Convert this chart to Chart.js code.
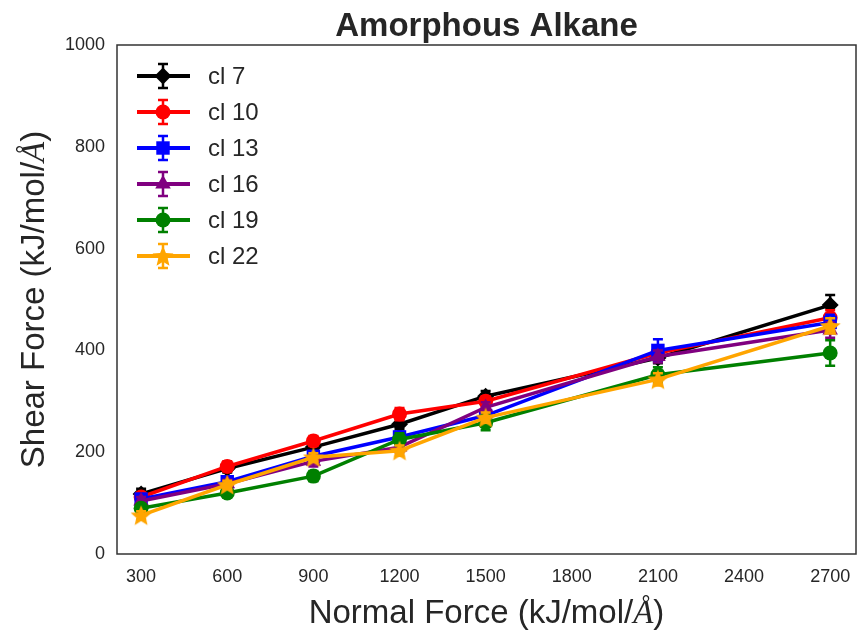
<!DOCTYPE html>
<html><head><meta charset="utf-8">
<script src="https://cdn.jsdelivr.net/npm/chart.js@4.4.0/dist/chart.umd.min.js"></script>
<style>html,body{margin:0;padding:0;background:#fff}#wrap{width:857px;height:635px}</style>
</head><body><div id="wrap"><canvas id="c" width="857" height="635"></canvas></div>
<script>
// ---- data ----
const normalForce = [300, 600, 900, 1200, 1500, 2100, 2700];
const seriesNames = ['cl 7', 'cl 10', 'cl 13', 'cl 16', 'cl 19', 'cl 22'];
const cl7  = [118, 168, 210, 255, 310, 385, 489];
const cl10 = [112, 172, 222, 275, 300, 395, 464];
const cl13 = [108, 142, 192, 230, 272, 400, 455];
const cl16 = [104, 138, 182, 210, 288, 388, 440];
const cl19 = [90, 120, 153, 225, 258, 352, 395];
const cl22 = [76, 136, 190, 203, 268, 343, 448];
const err7  = [10, 8, 10, 10, 10, 10, 20];
const err10 = [8, 10, 10, 12, 10, 10, 15];
const err13 = [10, 8, 10, 10, 10, 22, 15];
const err16 = [8, 8, 10, 10, 10, 12, 15];
const err19 = [8, 8, 10, 12, 15, 15, 25];
const err22 = [8, 8, 8, 10, 10, 12, 15];
const xTicks = [300, 600, 900, 1200, 1500, 1800, 2100, 2400, 2700];
const yTicks = [0, 200, 400, 600, 800, 1000];

const colors = ['#000000', '#ff0000', '#0000ff', '#800080', '#008000', '#ffa500'];
const values = [cl7, cl10, cl13, cl16, cl19, cl22];
const errors = [err7, err10, err13, err16, err19, err22];

const FONT = '"Liberation Sans", Arial, sans-serif';
const TXT = '#262626';

function starCanvas(color, R) {
  const s = Math.ceil(R * 2 + 2);
  const c = document.createElement('canvas');
  c.width = s; c.height = s;
  const g = c.getContext('2d');
  g.fillStyle = color;
  g.beginPath();
  const r = R * 0.45;
  for (let i = 0; i < 10; i++) {
    const a = -Math.PI / 2 + i * Math.PI / 5;
    const rr = i % 2 === 0 ? R : r;
    const px = s / 2 + rr * Math.cos(a), py = s / 2 + rr * Math.sin(a) + R * 0.08;
    if (i === 0) g.moveTo(px, py); else g.lineTo(px, py);
  }
  g.closePath(); g.fill();
  return c;
}
const star = starCanvas(colors[5], 11);
const styles = ['rectRot', 'circle', 'rect', 'triangle', 'circle', star];
const radii = [8.5, 7.5, 9.5, 9, 7.5, 8];

const datasets = values.map((vals, k) => ({
  label: seriesNames[k],
  data: normalForce.map((x, i) => ({ x: x, y: vals[i] })),
  borderColor: colors[k],
  backgroundColor: colors[k],
  borderWidth: 3.5,
  pointStyle: styles[k],
  pointRadius: radii[k],
  pointBorderWidth: 0,
  pointBackgroundColor: colors[k],
  pointBorderColor: colors[k],
  tension: 0,
  clip: 12,
  order: 5 - k,
  errs: errors[k]
}));

const errorBars = {
  id: 'errorBars',
  beforeDatasetDraw(chart, args) {
    const ds = chart.data.datasets[args.index];
    const ys = chart.scales.y;
    const ctx = chart.ctx;
    ctx.save();
    ctx.strokeStyle = ds.borderColor;
    ctx.lineWidth = 2.5;
    args.meta.data.forEach((pt, i) => {
      const v = ds.data[i].y, e = ds.errs[i];
      const y1 = ys.getPixelForValue(v + e), y2 = ys.getPixelForValue(v - e);
      ctx.beginPath();
      ctx.moveTo(pt.x, y1); ctx.lineTo(pt.x, y2);
      ctx.moveTo(pt.x - 5, y1); ctx.lineTo(pt.x + 5, y1);
      ctx.moveTo(pt.x - 5, y2); ctx.lineTo(pt.x + 5, y2);
      ctx.stroke();
    });
    ctx.restore();
  }
};

function drawMarker(ctx, k, x, y) {
  const c = colors[k], r = radii[k];
  ctx.fillStyle = c;
  ctx.beginPath();
  if (k === 0) { ctx.moveTo(x, y - r); ctx.lineTo(x + r, y); ctx.lineTo(x, y + r); ctx.lineTo(x - r, y); ctx.closePath(); ctx.fill(); }
  else if (k === 1 || k === 4) { ctx.arc(x, y, r, 0, Math.PI * 2); ctx.fill(); }
  else if (k === 2) { const s = r * Math.SQRT1_2; ctx.rect(x - s, y - s, 2 * s, 2 * s); ctx.fill(); }
  else if (k === 3) {
    for (let i = 0; i < 3; i++) { const a = -Math.PI / 2 + i * 2 * Math.PI / 3; const px = x + r * Math.cos(a), py = y + r * Math.sin(a); if (i === 0) ctx.moveTo(px, py); else ctx.lineTo(px, py); }
    ctx.closePath(); ctx.fill();
  } else { ctx.drawImage(star, x - star.width / 2, y - star.height / 2); }
}

function drawMixed(ctx, parts, x, y) {
  let w = 0;
  parts.forEach(p => { ctx.font = p.f; w += ctx.measureText(p.t).width; });
  let cx = x - w / 2;
  parts.forEach(p => { ctx.font = p.f; ctx.fillText(p.t, cx, y); cx += ctx.measureText(p.t).width; });
}

const decor = {
  id: 'decor',
  afterDraw(chart) {
    const ctx = chart.ctx, a = chart.chartArea;
    ctx.save();
    ctx.strokeStyle = '#333333';
    ctx.lineWidth = 1.5;
    ctx.strokeRect(a.left, a.top, a.right - a.left, a.bottom - a.top);
    ctx.fillStyle = TXT;
    ctx.textAlign = 'center';
    ctx.textBaseline = 'alphabetic';
    ctx.font = 'bold 33px ' + FONT;
    ctx.fillText('Amorphous Alkane', (a.left + a.right) / 2, 36);
    ctx.textAlign = 'left';
    const mx = (a.left + a.right) / 2;
    drawMixed(ctx, [
      { t: 'Normal Force (kJ/mol/', f: '33px ' + FONT },
      { t: 'Å', f: 'italic 33px "Liberation Serif", serif' },
      { t: ')', f: '33px ' + FONT }
    ], mx, 623);
    ctx.save();
    ctx.translate(44, (a.top + a.bottom) / 2);
    ctx.rotate(-Math.PI / 2);
    drawMixed(ctx, [
      { t: 'Shear Force (kJ/mol/', f: '33px ' + FONT },
      { t: 'Å', f: 'italic 33px "Liberation Serif", serif' },
      { t: ')', f: '33px ' + FONT }
    ], 0, 0);
    ctx.restore();
    seriesNames.forEach((name, k) => {
      const ly = 76 + k * 36;
      ctx.strokeStyle = colors[k];
      ctx.lineWidth = 4;
      ctx.beginPath(); ctx.moveTo(137, ly); ctx.lineTo(190, ly); ctx.stroke();
      ctx.lineWidth = 2.5;
      ctx.beginPath();
      ctx.moveTo(163, ly - 12); ctx.lineTo(163, ly + 12);
      ctx.moveTo(158, ly - 12); ctx.lineTo(168, ly - 12);
      ctx.moveTo(158, ly + 12); ctx.lineTo(168, ly + 12);
      ctx.stroke();
      drawMarker(ctx, k, 163, ly);
      ctx.fillStyle = TXT;
      ctx.font = '24px ' + FONT;
      ctx.textAlign = 'left';
      ctx.textBaseline = 'middle';
      ctx.fillText(name, 208, ly + 1);
    });
    ctx.restore();
  }
};

new Chart(document.getElementById('c'), {
  type: 'line',
  data: { datasets: datasets },
  options: {
    responsive: false,
    animation: false,
    devicePixelRatio: 1,
    layout: { autoPadding: false, padding: { left: 0, right: 1, top: 45, bottom: 0 } },
    plugins: { legend: { display: false }, tooltip: { enabled: false }, title: { display: false } },
    scales: {
      x: {
        type: 'linear', min: 216, max: 2790,
        grid: { display: false, drawTicks: false },
        border: { display: false },
        afterBuildTicks: s => { s.ticks = xTicks.map(v => ({ value: v })); },
        afterFit: s => { s.height = 81; s.paddingLeft = 0; s.paddingRight = 0; },
        ticks: { color: TXT, font: { family: FONT, size: 18 }, padding: 12, maxRotation: 0, autoSkip: false, callback: v => String(v) }
      },
      y: {
        type: 'linear', min: 0, max: 1000,
        grid: { display: false, drawTicks: false },
        border: { display: false },
        afterBuildTicks: s => { s.ticks = yTicks.map(v => ({ value: v })); },
        afterFit: s => { s.width = 117; s.paddingTop = 0; s.paddingBottom = 0; },
        ticks: { color: TXT, font: { family: FONT, size: 18 }, padding: 12, callback: v => String(v) }
      }
    }
  },
  plugins: [errorBars, decor]
});
</script>
</body></html>
